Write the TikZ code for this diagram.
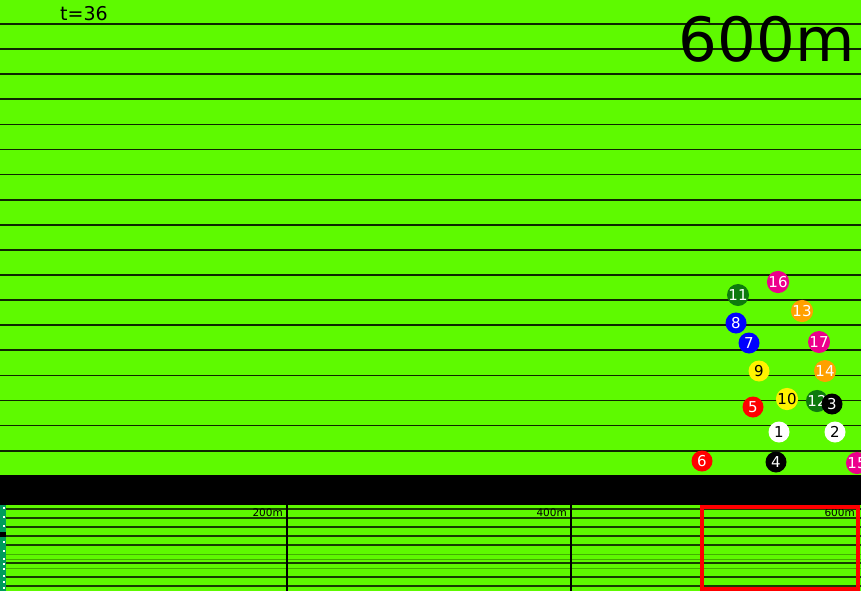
\documentclass[tikz,border=0pt]{standalone}
\usepackage{fontspec}
\setmainfont{DejaVu Sans}
\definecolor{track}{RGB}{94,250,0}
\definecolor{horsegreen}{RGB}{14,122,14}
\definecolor{horseorange}{RGB}{255,160,0}
\definecolor{stripteal}{RGB}{0,158,92}
\tikzset{
  runner/.style={circle, fill=#1, minimum size=21pt, inner sep=0pt, text=white,
    font=\fontsize{15}{15}\selectfont},
  lane/.style={black!85!track, line width=1.7pt},
  minilane/.style={black!75!track, line width=1.1pt},
  minifaint/.style={black!30!track, line width=1pt},
  marklabel/.style={anchor=base east, inner sep=0pt, font=\fontsize{10.5}{10.5}\selectfont}
}
\begin{document}
\begin{tikzpicture}[x=1pt, y=-1pt, line cap=butt]
  \useasboundingbox (0,0) rectangle (861,591);
  \clip (0,0) rectangle (861,591);
  % track
  \fill[track] (0,0) rectangle (861,591);
  \foreach \k in {0,...,17}
    \draw[lane] (0,{24+25.1*\k}) -- (861,{24+25.1*\k});
  \fill[black] (0,475) rectangle (861,505);
  % texts
  \node[anchor=base west, inner sep=0pt, font=\fontsize{19}{19}\selectfont] (clock) at (60,21) {t=36};
  \node[anchor=base east, inner sep=0pt, font=\fontsize{61}{61}\selectfont] (dist) at (855,62) {600m};
  % runners
  \node[runner=magenta] (r16) at (778,282) {16};
  \node[runner=horsegreen] (r11) at (738,295) {11};
  \node[runner=horseorange] (r13) at (802,311) {13};
  \node[runner=blue] (r8) at (736,323) {8};
  \node[runner=blue] (r7) at (749,343) {7};
  \node[runner=magenta] (r17) at (819,342) {17};
  \node[runner=yellow, text=black] (r9) at (759,371) {9};
  \node[runner=horseorange] (r14) at (825,371) {14};
  \node[runner=yellow, text=black] (r10) at (787,399) {10};
  \node[runner=horsegreen] (r12) at (817,401) {12};
  \node[runner=black] (r3) at (832,404) {3};
  \node[runner=red] (r5) at (753,407) {5};
  \node[runner=white, text=black] (r1) at (779,432) {1};
  \node[runner=white, text=black] (r2) at (835,432) {2};
  \node[runner=red] (r6) at (702,461) {6};
  \node[runner=black] (r4) at (776,462) {4};
  \node[runner=magenta] (r15) at (857,463) {15};
  % minimap
  \foreach \y in {509,518,527,536,545,563,577,586}
    \draw[minilane] (0,\y) -- (861,\y);
  \foreach \y in {554,559,568}
    \draw[minifaint] (0,\y) -- (861,\y);
  \draw[black, line width=1.5pt] (287,505) -- (287,591) (571,505) -- (571,591);
  \node[marklabel] (m200) at (283,516) {200m};
  \node[marklabel] (m400) at (567,516) {400m};
  \node[marklabel] (m600) at (855,516) {600m};
  \fill[stripteal] (0,505) rectangle (5.5,591);
  \fill[black] (0,532) rectangle (5.5,537);
  \foreach \y in {507,516,525,541,550,558,563,568,575,581,587}
    \fill[white] (3,\y) rectangle (4.5,{\y+2});
  \draw[red, line width=4pt] (701.5,507) rectangle (857.5,589);
\end{tikzpicture}
\end{document}
